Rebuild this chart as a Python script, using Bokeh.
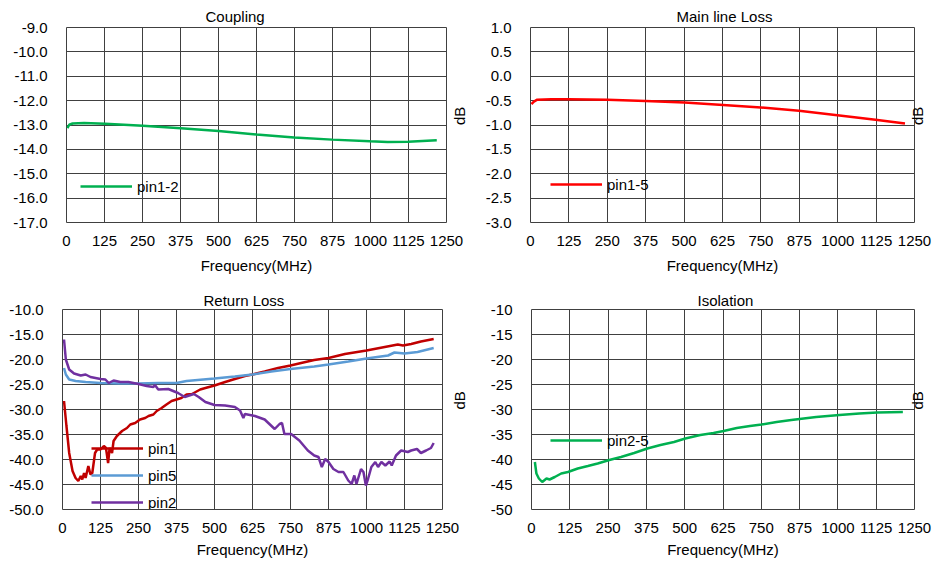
import math
from bokeh.plotting import figure
from bokeh.models import Range1d, FixedTicker, NumeralTickFormatter, Legend, LegendItem, LinearAxis
from bokeh.layouts import column, row
from bokeh.embed import file_html
from bokeh.resources import INLINE

# ---------------- data ----------------
x_ticks = [0, 125, 250, 375, 500, 625, 750, 875, 1000, 1125, 1250]

coupling_freq = [3, 9, 20, 58, 127, 251, 376, 500, 625, 749, 874, 998, 1056, 1124, 1218]
coupling_db = [-13.13, -12.99, -12.94, -12.92, -12.95, -13.03, -13.13, -13.25, -13.39,
               -13.51, -13.60, -13.67, -13.70, -13.69, -13.63]

mainloss_freq = [3, 11, 22, 68, 124, 250, 374, 501, 627, 750, 874, 999, 1123, 1219]
mainloss_db = [-0.57, -0.52, -0.48, -0.47, -0.47, -0.48, -0.51, -0.54, -0.59, -0.64,
               -0.71, -0.80, -0.89, -0.97]

pin1_freq = [5, 13, 22, 33, 43, 52, 60, 65, 71, 76, 85, 92, 98, 107, 114, 125, 136, 143, 150, 155,
             163, 168, 179, 196, 212, 223, 239, 255, 272, 283, 299, 310, 326, 342, 359, 375, 391, 408, 426, 453,
             470, 500, 535, 567, 600, 625, 665, 709, 750, 785, 828, 875, 929, 1000, 1060, 1103, 1120, 1147, 1179, 1221]
pin1_db = [-28.3, -33.3, -38.7, -42.3, -43.7, -44.3, -43.3, -44.0, -42.7, -43.7,
           -41.3, -43.0, -42.7, -38.7, -38.0, -38.0, -37.3, -37.7, -40.7, -37.7,
           -38.7, -36.3, -35.3, -34.3, -33.7, -33.0, -32.7, -32.0, -31.7, -31.3,
           -31.0, -30.3, -29.7, -29.0, -28.3, -28.0, -27.7, -27.0, -26.9, -26.0,
           -25.7, -25.2, -24.5, -23.9, -23.3, -23.0, -22.4, -21.7, -21.2, -20.7,
           -20.1, -19.7, -18.9, -18.2, -17.5, -17.0, -17.2, -16.9, -16.4, -15.9]

pin5_freq = [5, 11, 22, 43, 76, 125, 185, 250, 315, 375, 408, 500, 567, 625, 687, 750, 828, 875, 940, 1000,
             1071, 1092, 1125, 1168, 1221]
pin5_db = [-21.7, -23.0, -24.0, -24.3, -24.5, -24.7, -24.8, -24.8, -24.7, -24.7,
           -24.3, -23.8, -23.4, -23.0, -22.4, -21.9, -21.4, -21.0, -20.4, -19.8,
           -19.2, -18.6, -18.8, -18.5, -17.7]

pin2_freq = [5, 11, 22, 38, 60, 76, 92, 125, 141, 152, 168, 190, 217, 250, 277, 299, 304, 315, 348, 364,
             380, 402, 432, 448, 470, 500, 535, 567, 584, 595, 600, 633, 665, 698, 714, 722, 730, 752, 779, 807,
             828, 842, 853, 864, 875, 891, 908, 924, 940, 951, 960, 967, 982, 990, 998, 1005, 1016, 1029, 1038, 1049,
             1062, 1076, 1083, 1097, 1114, 1136, 1147, 1166, 1179, 1196, 1212, 1221]
pin2_db = [-16.0, -20.0, -22.0, -22.8, -23.2, -23.0, -23.5, -23.9, -24.0, -24.7,
           -24.2, -24.5, -24.5, -24.9, -25.3, -25.5, -25.1, -26.0, -25.9, -26.3,
           -26.7, -27.5, -26.9, -27.5, -28.5, -29.1, -29.2, -29.5, -30.2, -31.7,
           -30.9, -31.3, -32.0, -33.9, -32.9, -32.7, -34.9, -34.9, -36.2, -38.2,
           -39.2, -39.5, -41.5, -39.9, -40.5, -41.9, -42.5, -42.5, -44.2, -44.9,
           -43.2, -44.9, -41.9, -42.5, -45.2, -43.9, -41.5, -40.5, -41.5, -40.5,
           -41.2, -40.4, -41.2, -39.2, -38.2, -38.5, -38.2, -37.9, -38.7, -38.2,
           -37.7, -36.7]

iso_freq = [11, 16, 24, 35, 49, 59, 76, 97, 119, 151, 184, 216, 254, 292, 335, 378, 421, 465, 502, 551,
            594, 627, 670, 713, 751, 800, 848, 875, 929, 1005, 1070, 1129, 1212]
iso_db = [-40.5, -42.8, -43.8, -44.5, -43.8, -44.0, -43.5, -42.8, -42.5, -41.8,
          -41.3, -40.8, -40.1, -39.5, -38.7, -37.8, -37.1, -36.5, -35.8, -35.1,
          -34.7, -34.3, -33.7, -33.3, -33.0, -32.5, -32.1, -31.9, -31.5, -31.1,
          -30.8, -30.6, -30.5]

coupling_ticks = [-17, -16, -15, -14, -13, -12, -11, -10, -9]
mainloss_ticks = [-3.0, -2.5, -2.0, -1.5, -1.0, -0.5, 0.0, 0.5, 1.0]
rl_ticks = [-50, -45, -40, -35, -30, -25, -20, -15, -10]
iso_ticks = [-50, -45, -40, -35, -30, -25, -20, -15, -10]

# ---------------- styling ----------------
FONT = "Liberation Sans"
FS = "15px"
GRID = "#404040"
TXT = "#000000"


def panel(title, t_off, t_stand, yticks, fmt, w, h, bl, br, bt, bb, ax_stand, db_stand):
    p = figure(width=w, height=h, x_range=Range1d(0, 1250),
               y_range=Range1d(yticks[0], yticks[-1]),
               output_backend="svg", toolbar_location=None,
               min_border_left=bl, min_border_right=br,
               min_border_top=bt, min_border_bottom=bb)
    p.title.text = title
    p.title.align = "left"
    p.title.offset = t_off
    p.title.standoff = t_stand
    p.title.text_font = FONT
    p.title.text_font_size = FS
    p.title.text_font_style = "normal"
    p.title.text_color = TXT

    p.xaxis.ticker = FixedTicker(ticks=x_ticks)
    p.yaxis.ticker = FixedTicker(ticks=yticks)
    p.yaxis.formatter = NumeralTickFormatter(format=fmt)
    p.xaxis.axis_label = "Frequency(MHz)"
    p.xaxis.axis_label_text_font = FONT
    p.xaxis.axis_label_text_font_size = FS
    p.xaxis.axis_label_text_font_style = "normal"
    p.xaxis.axis_label_text_color = TXT
    p.xaxis.axis_label_standoff = ax_stand
    for ax in p.axis:
        ax.axis_line_color = None
        ax.major_tick_line_color = None
        ax.minor_tick_line_color = None
        ax.major_tick_out = 0
        ax.major_tick_in = 0
        ax.major_label_text_font = FONT
        ax.major_label_text_font_size = FS
        ax.major_label_text_color = TXT
    p.xaxis.major_label_standoff = 13
    p.yaxis.major_label_standoff = 19

    p.xgrid.ticker = FixedTicker(ticks=x_ticks)
    p.ygrid.ticker = FixedTicker(ticks=yticks)
    p.grid.grid_line_color = GRID
    p.grid.grid_line_width = 1
    p.outline_line_color = GRID
    p.outline_line_width = 1
    p.background_fill_color = "white"
    p.border_fill_color = "white"

    rax = LinearAxis(ticker=FixedTicker(ticks=[]), axis_label="dB",
                     axis_line_color=None, major_tick_line_color=None,
                     minor_tick_line_color=None, major_tick_out=0, major_tick_in=0,
                     major_label_standoff=0, axis_label_standoff=db_stand,
                     axis_label_orientation=math.pi / 2,
                     axis_label_text_font=FONT, axis_label_text_font_size=FS,
                     axis_label_text_font_style="normal", axis_label_text_color=TXT)
    p.add_layout(rax, "right")
    return p


def add_legend(p, renderers, labels, loc, spacing=3):
    lg = Legend(items=[LegendItem(label=l, renderers=[r]) for l, r in zip(labels, renderers)],
                location=loc, border_line_color=None, background_fill_alpha=0,
                padding=0, margin=0, glyph_width=52, glyph_height=20, label_height=20,
                label_standoff=5, spacing=spacing, label_text_font=FONT,
                label_text_font_size=FS, label_text_color=TXT)
    p.add_layout(lg)


LW = 2.5

p1 = panel("Coupling", 139, 6, coupling_ticks, "0.0", 480, 285, 66, 34, 27, 63, 8, 13)
r = p1.line(coupling_freq, coupling_db, line_color="#00B050", line_width=LW)
add_legend(p1, [r], ["pin1-2"], (14, 26))

p2 = panel("Main line Loss", 146, 6, mainloss_ticks, "0.0", 458, 285, 50, 24, 26, 59, 8, 3)
r = p2.line(mainloss_freq, mainloss_db, line_color="#FF0000", line_width=LW)
add_legend(p2, [r], ["pin1-5"], (20, 28))

p3 = panel("Return Loss", 141, 2, rl_ticks, "0.0", 480, 278, 62, 38, 24, 52, 5, 17)
ra = p3.line(pin1_freq, pin1_db, line_color="#C00000", line_width=LW)
rb = p3.line(pin5_freq, pin5_db, line_color="#5B9BD5", line_width=LW)
rc = p3.line(pin2_freq, pin2_db, line_color="#7030A0", line_width=LW)
add_legend(p3, [ra, rb, rc], ["pin1", "pin5", "pin2"], (29, -3), spacing=7)

p4 = panel("Isolation", 166, 2, iso_ticks, "0", 458, 278, 51, 24, 24, 54, 5, 3)
r = p4.line(iso_freq, iso_db, line_color="#00B050", line_width=LW)
add_legend(p4, [r], ["pin2-5"], (19, 59))

layout = column(row(p1, p2), row(p3, p4))
open("out.html", "w").write(file_html(layout, INLINE))
